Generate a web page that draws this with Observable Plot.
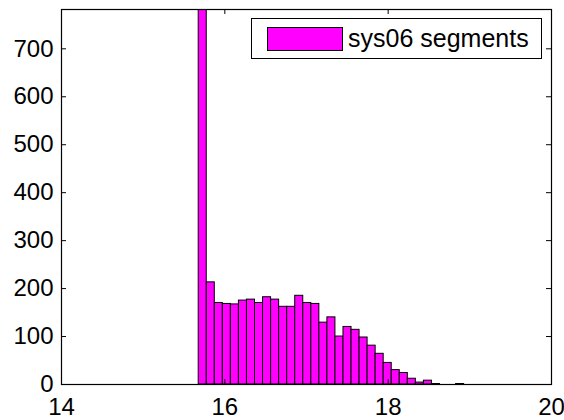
<!DOCTYPE html>
<html>
<head>
<meta charset="utf-8">
<script src="https://cdn.jsdelivr.net/npm/d3@7"></script>
<script src="https://cdn.jsdelivr.net/npm/@observablehq/plot@0.6"></script>
<style>
  html, body { margin: 0; padding: 0; background: #fff; }
  #wrap { position: relative; width: 564px; height: 420px; font-family: "Liberation Sans", Arial, sans-serif; }
  #legend { position: absolute; left: 251px; top: 18px; width: 289px; height: 39px; border: 1px solid #000; background: #fff; box-sizing: content-box; }
  #legend .sw { position: absolute; left: 15px; top: 8px; width: 74px; height: 22px; background: #ff00ff; border: 1px solid #000; }
  #legend .lb { position: absolute; left: 96px; top: 3px; font-size: 25px; line-height: 32px; color: #000; white-space: nowrap; }
</style>
</head>
<body>
<div id="wrap"></div>
<script>
// Histogram bins (range of the binned values) and counts
const binLo = 15.68;
const binHi = 18.93;
const counts = [2400, 213, 170, 168, 167, 175, 177, 170, 182, 177, 162, 162, 185, 170, 168, 129,
                140, 100, 120, 114, 98, 81, 64, 45, 30, 24, 12, 4, 8, 1, 0, 0, 1];
const seriesName = "sys06 segments";
const xTicks = [14, 16, 18, 20];
const yTicks = [0, 100, 200, 300, 400, 500, 600, 700];
const xDomain = [14, 20];
const yDomain = [0, 782];

const w = (binHi - binLo) / counts.length;
const bins = counts.map((c, i) => ({x1: binLo + i * w, x2: binLo + (i + 1) * w, count: c}));

const chart = Plot.plot({
  width: 564,
  height: 420,
  marginLeft: 61,
  marginRight: 13,
  marginTop: 9,
  marginBottom: 36,
  style: { fontFamily: "Liberation Sans, Arial, sans-serif", fontSize: "24px", color: "#000", background: "#fff" },
  x: { domain: xDomain },
  y: { domain: yDomain },
  marks: [
    Plot.rectY(bins, { x1: "x1", x2: "x2", y: "count", fill: "#ff00ff", stroke: "#000", strokeWidth: 1, clip: true }),
    Plot.frame({ stroke: "#000", strokeWidth: 1.2 }),
    // inward ticks (bottom/top)
    Plot.tickX(xTicks, { x: d => d, stroke: "#000", insetTop: 370 }),
    Plot.tickX(xTicks, { x: d => d, stroke: "#000", insetBottom: 370 }),
    // inward ticks (left/right)
    Plot.tickY(yTicks, { y: d => d, stroke: "#000", insetRight: 485 }),
    Plot.tickY(yTicks, { y: d => d, stroke: "#000", insetLeft: 485 }),
    Plot.axisX({ ticks: xTicks, tickSize: 0, tickPadding: 13, fontSize: 24, label: null, tickFormat: d => String(d) }),
    Plot.axisY({ ticks: yTicks, tickSize: 0, tickPadding: 8, fontSize: 24, label: null, tickFormat: d => String(d) })
  ]
});

const wrap = document.getElementById("wrap");
wrap.appendChild(chart);
const legend = document.createElement("div");
legend.id = "legend";
legend.innerHTML = '<div class="sw"></div><div class="lb"></div>';
legend.querySelector(".lb").textContent = seriesName;
wrap.appendChild(legend);
</script>
</body>
</html>
